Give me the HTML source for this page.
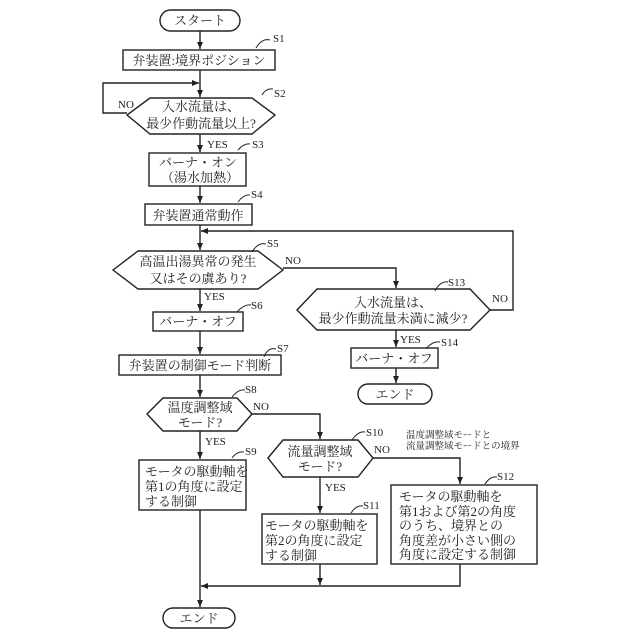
<!DOCTYPE html>
<html><head><meta charset="utf-8"><style>
body{margin:0;background:#fff}
svg{display:block}
text{font-family:"Liberation Serif","Noto Serif CJK JP","Noto Serif CJK SC",serif;fill:#222}
</style></head><body>
<svg width="640" height="640" viewBox="0 0 640 640" xmlns="http://www.w3.org/2000/svg">
<defs><marker id="a" markerWidth="8" markerHeight="8" refX="7" refY="4" orient="auto" markerUnits="userSpaceOnUse"><path d="M0,1 L7,4 L0,7 Z" fill="#222"/></marker></defs>
<g stroke="#222" stroke-width="1.4" fill="none">
<rect x="160" y="10" width="80" height="21" rx="10.5"/>
<line x1="200" y1="31" x2="200" y2="49" marker-end="url(#a)"/>
<rect x="123" y="50" width="152" height="20"/>
<line x1="200" y1="70" x2="200" y2="97" marker-end="url(#a)"/>
<polyline points="127,113 103,113 103,83 199,83" marker-end="url(#a)"/>
<polygon points="127,115 150,98 252,98 275,115 252,134 150,134"/>
<line x1="200" y1="134" x2="200" y2="152" marker-end="url(#a)"/>
<rect x="149" y="153" width="97" height="33"/>
<line x1="200" y1="186" x2="200" y2="203" marker-end="url(#a)"/>
<rect x="145" y="204" width="107" height="21"/>
<line x1="200" y1="225" x2="200" y2="250" marker-end="url(#a)"/>
<polyline points="490,310 513,310 513,231 201,231" marker-end="url(#a)"/>
<polygon points="113,270 138,251 258,251 283,270 258,289 138,289"/>
<polyline points="283,268 396,268 396,288" marker-end="url(#a)"/>
<polygon points="297,310 317,289 470,289 490,310 470,330 317,330"/>
<line x1="396" y1="330" x2="396" y2="347" marker-end="url(#a)"/>
<rect x="351" y="348" width="87" height="20"/>
<line x1="396" y1="368" x2="396" y2="383" marker-end="url(#a)"/>
<rect x="358" y="384" width="74" height="20" rx="10"/>
<line x1="200" y1="289" x2="200" y2="311" marker-end="url(#a)"/>
<rect x="153" y="312" width="90" height="19"/>
<line x1="200" y1="331" x2="200" y2="354" marker-end="url(#a)"/>
<rect x="119" y="355" width="162" height="20"/>
<line x1="200" y1="375" x2="200" y2="397" marker-end="url(#a)"/>
<polygon points="147,414 163,398 237,398 252,414 237,431 163,431"/>
<polyline points="252,414 320,414 320,439" marker-end="url(#a)"/>
<polygon points="268,458 283,440 358,440 373,458 358,477 283,477"/>
<polyline points="373,458 460,458 460,484" marker-end="url(#a)"/>
<line x1="200" y1="431" x2="200" y2="459" marker-end="url(#a)"/>
<rect x="139" y="460" width="107" height="50"/>
<line x1="320" y1="477" x2="320" y2="513" marker-end="url(#a)"/>
<rect x="262" y="514" width="115" height="50"/>
<rect x="391" y="485" width="146" height="79"/>
<line x1="320" y1="564" x2="320" y2="585" marker-end="url(#a)"/>
<polyline points="460,564 460,586 201,586" marker-end="url(#a)"/>
<line x1="200" y1="510" x2="200" y2="607" marker-end="url(#a)"/>
<rect x="163" y="608" width="72" height="20" rx="10"/>
<g stroke-width="1">
<path d="M256,48 Q262,38 270,40"/>
<path d="M262,95 Q266,88 273,89"/>
<path d="M238,150 Q244,143 250,144"/>
<path d="M238,202 Q244,194 250,195"/>
<path d="M252,252 Q258,242 266,244"/>
<path d="M435,291 Q440,281 448,282"/>
<path d="M237,312 Q244,304 251,305"/>
<path d="M426,349 Q432,341 440,342"/>
<path d="M264,357 Q268,347 276,349"/>
<path d="M232,397 Q238,389 245,390"/>
<path d="M232,458 Q237,451 244,452"/>
<path d="M352,440 Q358,431 365,432"/>
<path d="M351,513 Q356,505 363,506"/>
<path d="M485,484 Q490,476 497,477"/>
</g>
</g>
<g font-size="13">
<text x="200" y="25" text-anchor="middle">スタート</text>
<text x="199" y="65" text-anchor="middle">弁装置:境界ポジション</text>
<text x="201" y="111" text-anchor="middle">入水流量は、</text>
<text x="201" y="128" text-anchor="middle">最少作動流量以上?</text>
<text x="198" y="167" text-anchor="middle">バーナ・オン</text>
<text x="200" y="182" text-anchor="middle">（湯水加熱）</text>
<text x="198" y="220" text-anchor="middle">弁装置通常動作</text>
<text x="198" y="266" text-anchor="middle">高温出湯異常の発生</text>
<text x="198" y="283" text-anchor="middle">又はその虞あり?</text>
<text x="393" y="307" text-anchor="middle">入水流量は、</text>
<text x="393" y="323" text-anchor="middle">最少作動流量未満に減少?</text>
<text x="394" y="363" text-anchor="middle">バーナ・オフ</text>
<text x="395" y="399" text-anchor="middle">エンド</text>
<text x="198" y="326" text-anchor="middle">バーナ・オフ</text>
<text x="200" y="370" text-anchor="middle">弁装置の制御モード判断</text>
<text x="200" y="412" text-anchor="middle">温度調整域</text>
<text x="200" y="427" text-anchor="middle">モード?</text>
<text x="320" y="456" text-anchor="middle">流量調整域</text>
<text x="320" y="471" text-anchor="middle">モード?</text>
<text x="145" y="476">モータの駆動軸を</text>
<text x="145" y="491">第1の角度に設定</text>
<text x="145" y="506">する制御</text>
<text x="265" y="530">モータの駆動軸を</text>
<text x="265" y="545">第2の角度に設定</text>
<text x="265" y="560">する制御</text>
<text x="399" y="501">モータの駆動軸を</text>
<text x="399" y="516">第1および第2の角度</text>
<text x="399" y="530">のうち、境界との</text>
<text x="399" y="545">角度差が小さい側の</text>
<text x="399" y="559">角度に設定する制御</text>
<text x="199" y="623" text-anchor="middle">エンド</text>
</g>
<g font-size="11">
<text x="273" y="42">S1</text><text x="274" y="97">S2</text><text x="252" y="148">S3</text><text x="251" y="198">S4</text>
<text x="267" y="247">S5</text><text x="448" y="286">S13</text><text x="251" y="309">S6</text><text x="441" y="346">S14</text>
<text x="277" y="352">S7</text><text x="245" y="393">S8</text><text x="245" y="455">S9</text><text x="366" y="436">S10</text>
<text x="363" y="509">S11</text><text x="497" y="480">S12</text>
<text x="118" y="108">NO</text><text x="207" y="148">YES</text><text x="285" y="264">NO</text><text x="204" y="300">YES</text>
<text x="492" y="302">NO</text><text x="400" y="343">YES</text><text x="253" y="410">NO</text><text x="205" y="445">YES</text>
<text x="374" y="453">NO</text><text x="325" y="491">YES</text>
</g>
<g font-size="9.5">
<text x="406" y="438">温度調整域モードと</text>
<text x="406" y="449">流量調整域モードとの境界</text>
</g>
</svg>
</body></html>
